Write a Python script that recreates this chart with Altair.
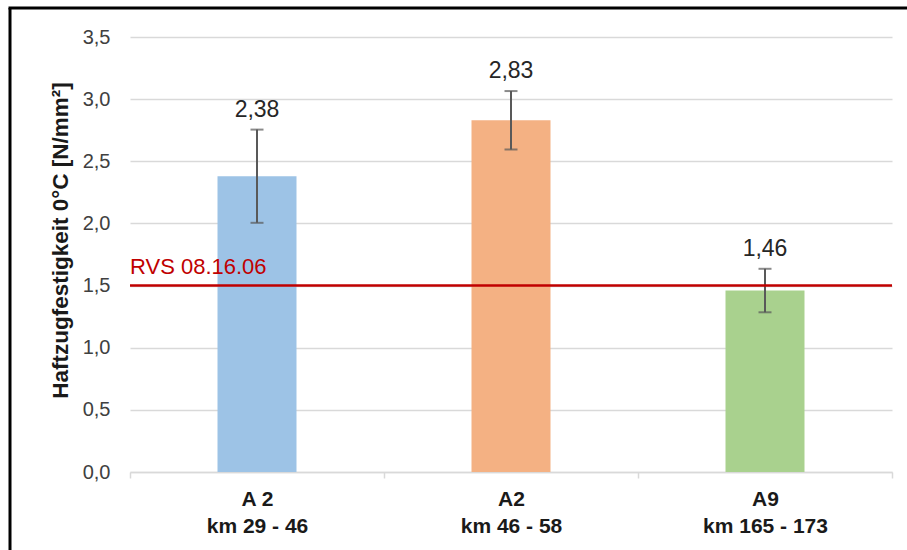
import altair as alt
import pandas as pd

roads = ["A 2", "A2", "A9"]
sections = ["km 29 - 46", "km 46 - 58", "km 165 - 173"]
means = [2.38, 2.83, 1.46]
errors = [0.375, 0.235, 0.175]
colors = ["#9DC3E6", "#F4B183", "#A9D18E"]
limit_value = 1.5
limit_label = "RVS 08.16.06"
y_title = "Haftzugfestigkeit 0°C [N/mm²]"

cats = [f"{r}\n{s}" for r, s in zip(roads, sections)]
df = pd.DataFrame({
    "cat": cats,
    "mean": means,
    "lo": [m - e for m, e in zip(means, errors)],
    "hi": [m + e for m, e in zip(means, errors)],
})
df["label"] = [f"{m:.2f}".replace(".", ",") for m in means]

x_enc = alt.X("cat:N", sort=cats, title=None,
              scale=alt.Scale(paddingInner=0, paddingOuter=0),
              axis=alt.Axis(labelExpr="split(datum.label, '\\n')",
                            labelFont="Liberation Sans", labelFontWeight="bold",
                            labelFontSize=21, labelColor="#1a1a1a", labelAngle=0,
                            labelLineHeight=27, labelPadding=10,
                            domainColor="#D9D9D9", domainWidth=1.5,
                            tickColor="#D9D9D9", tickWidth=1.5, tickSize=6,
                            tickBand="extent", grid=False))

y_scale = alt.Scale(domain=[0, 3.5], nice=False)
y_axis = alt.Axis(values=[0, 0.5, 1, 1.5, 2, 2.5, 3, 3.5],
                  labelExpr="replace(format(datum.value, '.1f'), '.', ',')",
                  labelFont="Liberation Sans", labelFontSize=20, labelColor="#404040",
                  labelPadding=20, domain=False, ticks=False,
                  gridColor="#D9D9D9", gridWidth=1.5,
                  title=y_title, titleFont="Liberation Sans", titleFontSize=22.5,
                  titleFontWeight="bold", titleColor="#1a1a1a",
                  titleAngle=-90, titleX=-70, titleY=203,
                  titleAlign="center", titleBaseline="middle")

base = alt.Chart(df)

bars = base.mark_bar(size=79).encode(
    x=x_enc,
    y=alt.Y("mean:Q", scale=y_scale, axis=y_axis),
    color=alt.Color("cat:N", sort=cats, scale=alt.Scale(domain=cats, range=colors), legend=None),
)

err = base.mark_rule(color="#595959", strokeWidth=2).encode(
    x=alt.X("cat:N", sort=cats), y="lo:Q", y2="hi:Q")
cap_lo = base.mark_tick(color="#595959", thickness=2, size=13).encode(
    x=alt.X("cat:N", sort=cats), y="lo:Q")
cap_hi = base.mark_tick(color="#595959", thickness=2, size=13).encode(
    x=alt.X("cat:N", sort=cats), y="hi:Q")

labels = base.mark_text(font="Liberation Sans", fontSize=23, color="#262626",
                        baseline="alphabetic", dy=-13).encode(
    x=alt.X("cat:N", sort=cats), y="hi:Q", text="label:N")

lim_df = pd.DataFrame({"y": [limit_value], "t": [limit_label]})
lim = alt.Chart(lim_df)
lim_rule = lim.mark_rule(color="#C00000", strokeWidth=2.5).encode(y="y:Q")
lim_text = lim.mark_text(font="Liberation Sans", fontSize=22, color="#C00000",
                         align="left", baseline="alphabetic", dy=-12).encode(
    x=alt.value(0), y="y:Q", text="t:N")

frame_left = lim.mark_rule(color="black", strokeWidth=3).encode(
    x=alt.value(-120), y=alt.value(-29), y2=alt.value(600))
frame_top = lim.mark_rule(color="black", strokeWidth=3).encode(
    x=alt.value(-121.5), x2=alt.value(800), y=alt.value(-29))

chart = alt.layer(bars, err, cap_lo, cap_hi, labels, lim_rule, lim_text,
                  frame_left, frame_top).properties(
    width=762, height=435,
    autosize=alt.AutoSizeParams(type="none"),
    padding={"left": 130, "top": 37, "right": 15, "bottom": 78},
    background="white",
).configure_view(stroke=None)

chart.save("out.html", embed_options={"renderer": "svg", "actions": False})
